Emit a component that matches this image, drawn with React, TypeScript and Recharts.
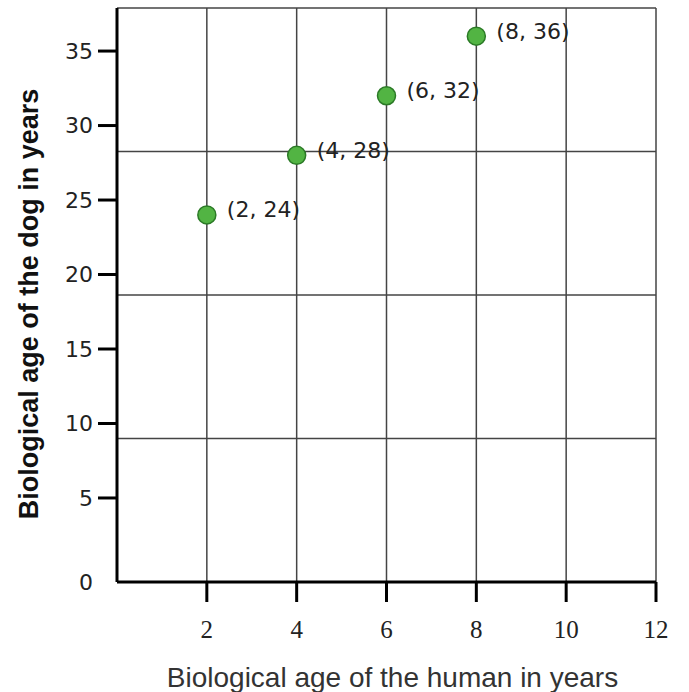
import React from "react";
import { ScatterChart, Scatter, XAxis, YAxis, CartesianGrid, Label } from "recharts";

const humanAge = [2, 4, 6, 8];
const dogAge = [24, 28, 32, 36];
const xTicks = [2, 4, 6, 8, 10, 12];
const yTicks = [0, 5, 10, 15, 20, 25, 30, 35];
const xTitle = "Biological age of the human in years";
const yTitle = "Biological age of the dog in years";

const X_DOMAIN: [number, number] = [0, 12];
const Y_DOMAIN: [number, number] = [-0.64, 37.89];
const ROWS = 4;
const rowValues = Array.from({ length: ROWS }, (_, i) => Y_DOMAIN[0] + ((Y_DOMAIN[1] - Y_DOMAIN[0]) * (i + 1)) / ROWS);

const data = humanAge.map((x, i) => ({ x, y: dogAge[i] }));

const W = 689;
const H = 692;
const PLOT_LEFT = 117;
const PLOT_TOP = 8;
const PLOT_RIGHT = 656;
const PLOT_BOTTOM = 582;

const XTick = (props: any) => {
  const { x, payload } = props;
  return (
    <g>
      <line x1={x} x2={x} y1={PLOT_BOTTOM} y2={PLOT_BOTTOM + 20} stroke="#000" strokeWidth={3} />
      <text x={x} y={PLOT_BOTTOM + 56} textAnchor="middle" fontFamily="'Liberation Serif', serif" fontSize={25} fill="#222">
        {payload.value}
      </text>
    </g>
  );
};

const YTick = (props: any) => {
  const { y, payload } = props;
  const isZero = payload.value === 0;
  const ty = isZero ? PLOT_BOTTOM : y;
  return (
    <g>
      {!isZero && <line x1={PLOT_LEFT - 19} x2={PLOT_LEFT} y1={y} y2={y} stroke="#000" strokeWidth={3} />}
      <text x={PLOT_LEFT - 24} y={ty} dy="0.36em" textAnchor="end" fontFamily="'DejaVu Sans', Verdana, sans-serif" fontSize={22} fill="#222">
        {payload.value}
      </text>
    </g>
  );
};

const PointShape = (props: any) => {
  const { cx, cy, payload } = props;
  return (
    <g>
      <circle cx={cx} cy={cy} r={9} fill="#52b443" stroke="#2b7a26" strokeWidth={1.5} />
      <text x={cx + 20} y={cy - 5.5} dy="0.36em" fontFamily="'DejaVu Sans', Verdana, sans-serif" fontSize={22} fill="#222">
        {`(${payload.x}, ${payload.y})`}
      </text>
    </g>
  );
};

const XTitle = () => (
  <text x={(PLOT_LEFT + PLOT_RIGHT) / 2 + 6} y={687} textAnchor="middle" fontFamily="'Liberation Sans', Arial, sans-serif" fontSize={28} fill="#333">
    {xTitle}
  </text>
);

const YTitle = () => (
  <text
    x={0}
    y={0}
    transform={`translate(38, 304) rotate(-90)`}
    textAnchor="middle"
    fontFamily="'Liberation Sans', Arial, sans-serif"
    fontWeight="bold"
    fontSize={27}
    fill="#111"
  >
    {yTitle}
  </text>
);

export default function App() {
  return (
    <div style={{ position: "absolute", left: 0, top: 0, width: W, height: H, background: "#fff" }}>
      <ScatterChart
        width={W}
        height={H}
        margin={{ top: PLOT_TOP, right: W - PLOT_RIGHT, bottom: 0, left: 0 }}
      >
        <CartesianGrid stroke="#444" strokeWidth={1.5} horizontalValues={rowValues} verticalValues={xTicks} />
        <XAxis
          type="number"
          dataKey="x"
          domain={X_DOMAIN}
          ticks={xTicks}
          interval={0}
          allowDataOverflow
          height={H - PLOT_BOTTOM}
          axisLine={{ stroke: "#000", strokeWidth: 3 }}
          tickLine={false}
          tick={<XTick />}
        >
          <Label content={<XTitle />} />
        </XAxis>
        <YAxis
          type="number"
          dataKey="y"
          domain={Y_DOMAIN}
          ticks={yTicks}
          interval={0}
          allowDataOverflow
          width={PLOT_LEFT}
          axisLine={{ stroke: "#000", strokeWidth: 3 }}
          tickLine={false}
          tick={<YTick />}
        >
          <Label content={<YTitle />} />
        </YAxis>
        <Scatter data={data} isAnimationActive={false} shape={<PointShape />} />
      </ScatterChart>
    </div>
  );
}
